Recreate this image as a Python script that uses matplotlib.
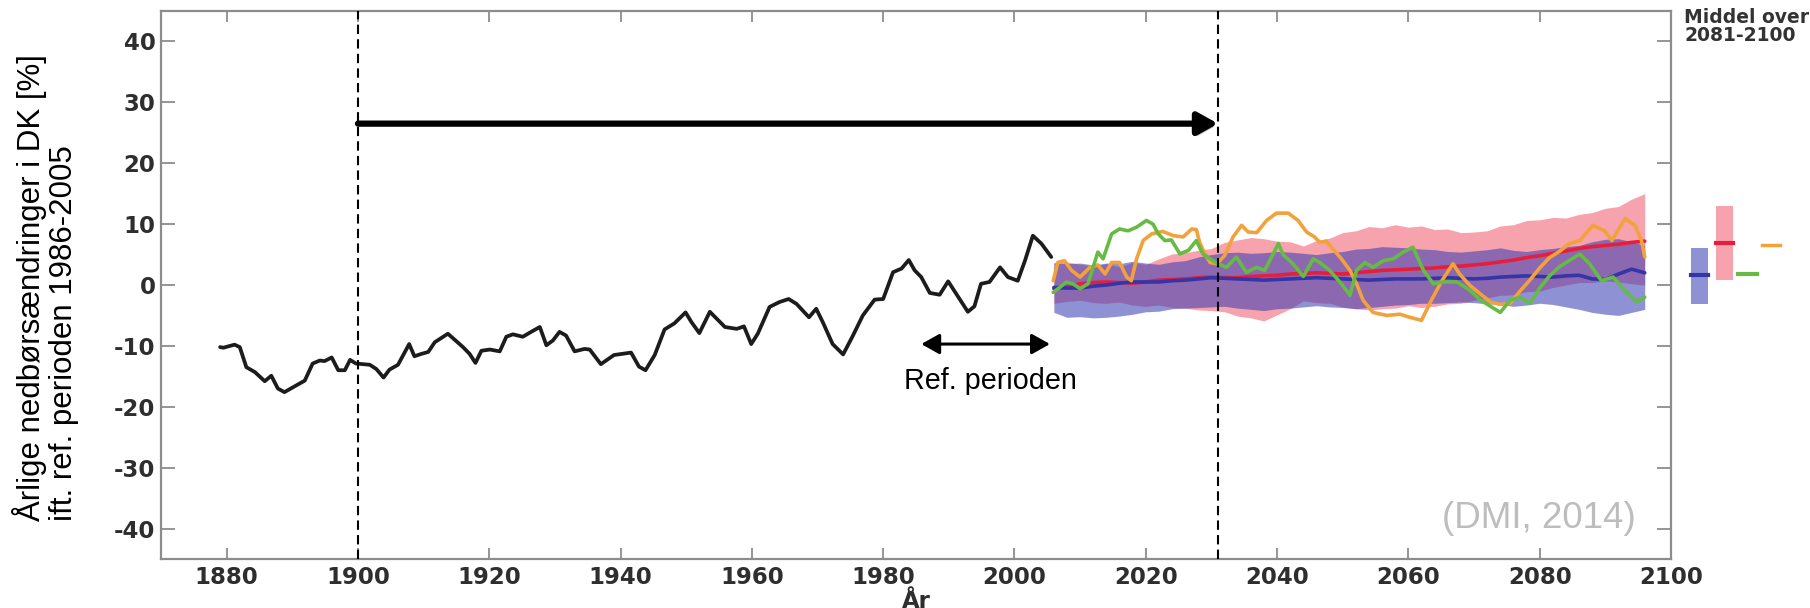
import matplotlib
matplotlib.use("Agg")
import matplotlib.pyplot as plt
import matplotlib.patheffects as pe
import numpy as np

# ---------------- data ----------------
obs_years = [1879.0, 1879.5, 1881.2, 1882.0, 1883.0, 1884.3, 1885.8, 1886.8, 1887.8, 1888.8,
             1890.1, 1891.9, 1893.1, 1894.2, 1894.9, 1896.0, 1897.0, 1898.0, 1898.8, 1899.7,
             1901.8, 1902.8, 1903.9, 1904.8, 1906.1, 1907.8, 1908.6, 1909.7, 1910.7, 1911.7,
             1913.7, 1916.0, 1917.0, 1917.9, 1918.8, 1920.1, 1921.6, 1922.6, 1923.6, 1925.1,
             1926.7, 1927.7, 1928.7, 1929.7, 1930.7, 1931.7, 1933.0, 1934.5, 1935.3, 1937.0,
             1939.0, 1941.6, 1942.8, 1943.8, 1945.2, 1946.7, 1948.2, 1949.9, 1950.8, 1952.0,
             1953.6, 1955.9, 1957.7, 1958.8, 1959.9, 1960.9, 1962.7, 1964.2, 1965.6, 1966.8,
             1968.7, 1969.8, 1970.8, 1972.3, 1973.9, 1975.4, 1976.9, 1978.7, 1980.0, 1981.5,
             1982.8, 1983.9, 1984.8, 1985.8, 1987.1, 1988.6, 1989.9, 1991.1, 1992.9, 1993.9,
             1994.9, 1996.2, 1997.8, 1999.0, 2000.5, 2001.6, 2002.8, 2004.1, 2005.6]
obs_values = [-10.2, -10.3, -9.8, -10.2, -13.5, -14.3, -15.8, -14.9, -17.0, -17.6,
               -16.8, -15.7, -12.9, -12.4, -12.5, -11.9, -14.0, -14.0, -12.3, -12.9,
               -13.1, -13.8, -15.2, -13.9, -13.1, -9.7, -11.7, -11.3, -11.0, -9.4,
               -8.0, -10.2, -11.3, -12.8, -10.8, -10.6, -10.9, -8.5, -8.1, -8.5,
               -7.5, -6.9, -9.9, -9.1, -7.7, -8.3, -10.9, -10.5, -10.6, -13.0,
               -11.5, -11.1, -13.4, -14.0, -11.5, -7.3, -6.3, -4.5, -6.1, -7.9,
               -4.4, -6.9, -7.2, -6.8, -9.7, -8.0, -3.6, -2.8, -2.3, -3.1,
               -5.3, -3.9, -6.1, -9.7, -11.4, -8.3, -5.0, -2.4, -2.3, 2.1,
               2.7, 4.1, 2.4, 1.3, -1.3, -1.6, 0.6, -1.4, -4.4, -3.5,
               0.2, 0.5, 2.9, 1.3, 0.7, 4.0, 8.1, 6.8, 4.6]

band_years = [2006, 2008, 2010, 2012, 2014, 2016, 2018, 2020, 2022, 2024, 2026, 2028, 2030,
              2032, 2034, 2036, 2038, 2040, 2042, 2044, 2046, 2048, 2050, 2052, 2054, 2056,
              2058, 2060, 2062, 2064, 2066, 2068, 2070, 2072, 2074, 2076, 2078, 2080, 2082,
              2084, 2086, 2088, 2090, 2092, 2094, 2096]
red_upper = [3.5, 3.8, 3.4, 3.1, 3.5, 3.0, 3.7, 3.4, 4.3, 5.1, 5.3, 5.7, 6.0,
             7.0, 7.4, 7.8, 7.6, 7.2, 7.1, 6.4, 7.3, 7.7, 8.6, 8.9, 9.6, 9.4,
             9.9, 9.5, 9.7, 9.1, 9.2, 8.6, 8.7, 8.9, 9.7, 9.9, 10.6, 10.7, 11.1,
             11.0, 11.6, 11.9, 12.6, 12.9, 14.1, 15.0]
red_lower = [-3.0, -2.7, -2.5, -2.9, -3.0, -2.8, -3.3, -3.5, -3.3, -3.7, -3.8, -4.1, -4.2,
             -4.4, -5.1, -5.4, -5.9, -4.9, -3.9, -2.6, -2.9, -3.0, -3.6, -3.9, -4.1, -3.9,
             -3.8, -3.4, -3.7, -3.5, -3.1, -3.0, -2.5, -2.1, -1.7, -1.6, -1.1, -1.0, -0.4,
             0.0, 0.4, 0.4, 0.7, 0.5, 0.2, 0.0]
blue_upper = [3.7, 3.5, 3.6, 3.3, 3.6, 3.5, 3.9, 3.6, 3.4, 3.8, 4.0, 4.6, 5.0,
              5.3, 5.4, 5.2, 5.3, 5.5, 5.4, 5.2, 5.0, 5.3, 5.5, 5.9, 6.0, 6.3,
              6.2, 6.1, 5.9, 5.8, 5.5, 5.4, 5.6, 5.8, 6.1, 5.7, 5.5, 5.8, 6.0,
              6.3, 6.5, 7.1, 7.5, 7.6, 7.1, 6.5]
blue_lower = [-4.5, -5.3, -5.2, -5.4, -5.3, -5.1, -4.8, -4.4, -4.3, -3.9, -3.8, -3.7, -3.6,
              -3.5, -3.8, -4.0, -4.2, -3.9, -3.8, -3.6, -3.4, -3.6, -3.7, -3.9, -3.7, -3.5,
              -3.3, -3.2, -3.0, -3.0, -2.9, -2.8, -2.9, -3.1, -3.2, -3.5, -3.3, -3.0, -3.2,
              -3.6, -4.0, -4.5, -4.8, -5.0, -4.5, -4.0]
red_mean = [-0.6, -0.3, 0.2, 0.4, 0.5, 0.4, 0.3, 0.5, 0.8, 0.9, 1.0, 1.2, 1.3,
            1.2, 1.2, 1.4, 1.5, 1.6, 1.8, 1.9, 2.0, 1.9, 1.8, 2.0, 2.2, 2.4,
            2.5, 2.6, 2.7, 2.8, 3.0, 3.1, 3.3, 3.5, 3.8, 4.1, 4.5, 4.8, 5.2,
            5.6, 6.0, 6.3, 6.5, 6.7, 7.0, 7.2]
blue_mean = [-0.4, -0.5, -0.5, -0.2, 0.0, 0.3, 0.5, 0.5, 0.5, 0.7, 0.8, 1.0, 1.2,
             1.1, 1.0, 0.9, 0.8, 0.9, 1.0, 1.1, 1.2, 1.1, 1.0, 0.9, 0.8, 0.9,
             1.0, 1.0, 1.0, 1.1, 1.2, 1.1, 1.0, 1.1, 1.3, 1.4, 1.5, 1.4, 1.3,
             1.5, 1.6, 1.0, 0.9, 1.8, 2.6, 2.0]

orange_years = [2005.9, 2006.6, 2007.6, 2008.7, 2010.0, 2011.5, 2012.7, 2013.8, 2014.8, 2016.0,
                2017.1, 2017.8, 2018.6, 2019.6, 2020.9, 2022.6, 2024.2, 2025.7, 2027.0, 2027.7,
                2028.2, 2029.0, 2029.8, 2030.8, 2032.0, 2033.3, 2034.6, 2035.6, 2036.9, 2038.4,
                2039.9, 2041.7, 2043.2, 2044.5, 2045.7, 2046.5, 2047.5, 2048.5, 2049.8, 2051.1,
                2052.1, 2053.1, 2054.6, 2056.7, 2058.7, 2060.2, 2062.0, 2063.5, 2065.1, 2066.8,
                2067.8, 2069.4, 2071.0, 2072.5, 2074.0, 2075.5, 2077.0, 2078.5, 2080.0, 2081.5,
                2083.0, 2084.5, 2086.1, 2088.1, 2089.9, 2091.0, 2093.0, 2094.5, 2095.5, 2096.0]
orange_values = [0.7, 3.7, 4.0, 2.4, 1.3, 2.9, 3.3, 1.8, 3.7, 3.7,
                 1.3, 0.7, 4.3, 7.3, 8.4, 8.8, 8.1, 7.9, 9.2, 9.1,
                 7.0, 5.1, 3.7, 3.5, 4.8, 7.9, 9.8, 8.7, 8.6, 10.6,
                 11.8, 11.8, 10.6, 8.7, 7.9, 7.0, 7.2, 5.9, 4.3, 2.4,
                 0.2, -2.5, -4.5, -5.0, -4.8, -5.3, -5.8, -2.5, 0.7, 3.5,
                 1.8, -0.1, -1.5, -2.8, -3.2, -3.0, -1.0, 0.8, 2.8, 4.5,
                 5.5, 6.8, 7.3, 9.8, 8.9, 7.3, 10.9, 9.8, 7.3, 4.6]

green_years = [2005.9, 2006.9, 2007.9, 2008.9, 2010.0, 2011.2, 2012.7, 2013.5, 2014.8, 2016.0,
               2017.3, 2018.6, 2020.1, 2021.1, 2021.9, 2022.9, 2023.9, 2025.2, 2026.5, 2027.7,
               2028.7, 2029.8, 2031.0, 2032.3, 2033.8, 2035.3, 2036.9, 2038.1, 2039.4, 2040.2,
               2040.9, 2042.4, 2044.0, 2045.5, 2046.5, 2048.0, 2049.8, 2051.1, 2052.1, 2053.4,
               2054.6, 2056.2, 2057.7, 2059.2, 2060.7, 2062.3, 2063.8, 2065.3, 2067.4, 2069.4,
               2071.0, 2072.5, 2074.0, 2075.5, 2077.0, 2078.5, 2080.0, 2081.5, 2083.0, 2084.5,
               2086.1, 2087.6, 2089.4, 2091.2, 2092.7, 2094.8, 2096.0]
green_values = [-1.2, -0.4, 0.5, 0.2, -0.6, 0.2, 5.4, 4.3, 8.4, 9.2,
                8.9, 9.5, 10.6, 10.0, 8.4, 7.3, 7.4, 5.1, 5.7, 7.3,
                5.1, 4.3, 3.5, 2.9, 4.6, 2.1, 2.9, 2.4, 5.1, 6.8,
                5.0, 3.5, 1.4, 4.3, 3.7, 2.4, 0.2, -1.7, 2.4, 3.7,
                2.9, 4.0, 4.3, 5.4, 6.2, 2.4, 0.2, 0.5, 0.5, -0.9,
                -2.5, -3.5, -4.5, -2.5, -2.0, -3.0, -0.5, 1.5, 3.0, 4.0,
                5.1, 3.5, 0.7, 1.3, -0.6, -2.8, -2.0]

# Mean over 2081-2100 (side panel)
mid_blue_low, mid_blue_high, mid_blue_mean = -3.1, 6.0, 1.6
mid_red_low, mid_red_high, mid_red_mean = 0.85, 12.9, 6.9
mid_green = 1.8
mid_orange = 6.6

ref_period = (1985.8, 2005.4)
big_arrow = (1900, 2031)
arrow_level = 26.5
dashed_years = [1900, 2031]

xticks = [1880, 1900, 1920, 1940, 1960, 1980, 2000, 2020, 2040, 2060, 2080, 2100]
yticks = [-40, -30, -20, -10, 0, 10, 20, 30, 40]

# ---------------- figure ----------------
W, H = 1810, 608
fig = plt.figure(figsize=(W / 100, H / 100), dpi=100)
L, R, T, B = 161, 1671, 11, 559
ax = fig.add_axes([L / W, 1 - B / H, (R - L) / W, (B - T) / H])
ax.set_xlim(1870, 2100)
ax.set_ylim(-45, 45)

gray = "#8c8c8c"
for s in ax.spines.values():
    s.set_color(gray)
    s.set_linewidth(1.6)

tickfont = dict(family="DejaVu Sans", weight="bold", size=16.5)
ax.set_xticks(xticks)
ax.set_yticks(yticks)
ax.set_xticklabels([str(v) for v in xticks], fontdict=tickfont, color="#2e2e2e")
ax.set_yticklabels([str(v) for v in yticks], fontdict=tickfont, color="#2e2e2e")
ax.tick_params(axis="x", direction="in", length=8, width=1.3, color=gray,
               top=True, bottom=True, pad=5)
ax.tick_params(axis="y", direction="in", length=10, width=1.3, color=gray,
               left=True, right=True, pad=4)

# bands
red_c = (0.93, 0.2, 0.3)
blue_c = (0.2, 0.22, 0.7)
ax.fill_between(band_years, red_lower, red_upper, color=red_c, alpha=0.45, lw=0, zorder=2)
ax.fill_between(band_years, blue_lower, blue_upper, color=blue_c, alpha=0.55, lw=0, zorder=3)

lkw = dict(solid_joinstyle="round", solid_capstyle="round")
ax.plot(band_years, red_mean, color="#e61e3c", lw=2.6, zorder=5, **lkw)
ax.plot(band_years, blue_mean, color="#3535a8", lw=2.6, zorder=5, **lkw)
ax.plot(orange_years, orange_values, color="#f2a23a", lw=2.6, zorder=6, **lkw)
ax.plot(green_years, green_values, color="#66bb44", lw=2.6, zorder=6, **lkw)

ax.plot(obs_years, obs_values, color="#1c1c1c", lw=2.7, zorder=7, **lkw)

for yr in dashed_years:
    ax.axvline(yr, color="black", lw=1.5, linestyle=(0, (4.5, 2.5)), zorder=8)

# big arrow with shadow
ann = ax.annotate("", xy=(big_arrow[1], arrow_level), xytext=(big_arrow[0], arrow_level),
                  arrowprops=dict(arrowstyle="-|>,head_length=0.5,head_width=0.28",
                                  lw=4.5, color="black", shrinkA=0, shrinkB=0,
                                  mutation_scale=24), zorder=9)
ann.arrow_patch.set_path_effects([pe.SimplePatchShadow(offset=(1.5, -2.5), shadow_rgbFace="#000000",
                                                       alpha=0.25), pe.Normal()])

# reference period arrow
ax.annotate("", xy=(ref_period[1], -9.7), xytext=(ref_period[0], -9.7),
            arrowprops=dict(arrowstyle="<|-|>,head_length=0.5,head_width=0.28",
                            lw=2.2, color="black", shrinkA=0, shrinkB=0,
                            mutation_scale=22), zorder=9)
ax.text(1996.3, -15.7, "Ref. perioden", ha="center", va="center",
        fontsize=20.7, family="Liberation Sans", color="black")

# source
fig.text(1539 / W, 1 - 519 / H, "(DMI, 2014)", ha="center", va="center",
         fontsize=26.5, family="Liberation Sans", color="#bdbdbd")

# y label
fig.text(12 / W, 1 - 521 / H, "Årlige nedbørsændringer i DK [%]\nift. ref. perioden 1986-2005",
         rotation=90, ha="left", va="bottom", multialignment="left",
         fontsize=22.5, family="Liberation Sans", color="black", linespacing=1.1)

# x label (partly cut at bottom, as in the source)
fig.text((L + R) / 2 / W, 1 - 590 / H, "År", ha="center", va="top",
         fontsize=16.5, family="DejaVu Sans", weight="bold", color="#2e2e2e")

# side panel: mean over 2081-2100
ax2 = fig.add_axes([1680 / W, 1 - B / H, 120 / W, (B - T) / H])
ax2.set_xlim(0, 120)
ax2.set_ylim(-45, 45)
ax2.axis("off")
ax2.fill_between([11, 28], mid_blue_low, mid_blue_high, color=blue_c, alpha=0.55, lw=0)
ax2.plot([11, 28], [mid_blue_mean] * 2, color="#3535a8", lw=3)
ax2.fill_between([36, 53], mid_red_low, mid_red_high, color=red_c, alpha=0.45, lw=0)
ax2.plot([36, 53], [mid_red_mean] * 2, color="#e61e3c", lw=3)
ax2.plot([58, 77], [mid_green] * 2, color="#66bb44", lw=3)
ax2.plot([82, 100], [mid_orange] * 2, color="#f2a23a", lw=2.5)

fig.text(1684 / W, 1 - 8 / H, "Middel over\n2081-2100", ha="left", va="top",
         fontsize=13.5, family="DejaVu Sans", weight="bold", color="#333333",
         linespacing=0.95)

fig.savefig("out.png", dpi=100)
